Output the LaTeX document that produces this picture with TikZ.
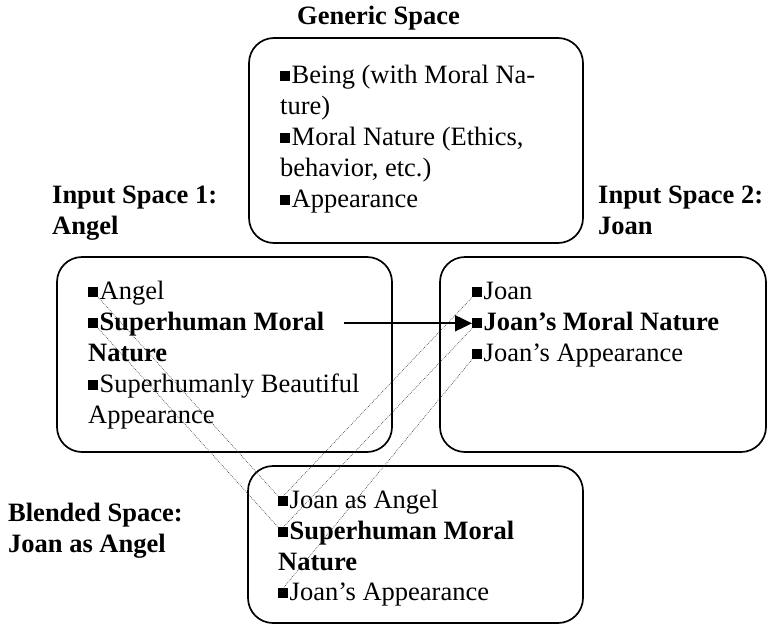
\documentclass[tikz,border=0pt]{standalone}
\usepackage{fontspec}
\setmainfont{Liberation Serif}
\usetikzlibrary{arrows.meta}
\begin{document}
\begin{tikzpicture}[x=1pt,y=-1pt,
  box/.style={draw, line width=1.7pt, rounded corners=25pt},
  blt/.style={fill=black, inner sep=0pt, minimum size=10pt, anchor=south west, yshift=1.5pt},
  txt/.style={anchor=base west, inner sep=0pt, font=\fontsize{26.5}{31}\selectfont},
  btxt/.style={txt, font=\fontsize{26.5}{31}\selectfont\bfseries},
  map/.style={draw=black!80, line width=0.55pt, dash pattern=on 0.8pt off 1.1pt},
  link/.style={line width=1.8pt, -{Triangle[length=17pt,width=16pt]}}]
\useasboundingbox (0,0) rectangle (767,626);

% space frames
\draw[box] (249,38) rectangle (583,243);
\draw[box] (57,257) rectangle (392,452);
\draw[box] (440,257) rectangle (766,452);
\draw[box] (248,466) rectangle (583,623);

% space titles
\node[btxt] (tg) at (297,25) {Generic Space};
\node[btxt] (ti1) at (52,203) {Input Space 1:};
\node[btxt] (ti1b) at (52,234) {Angel};
\node[btxt] (ti2) at (598,203) {Input Space 2:};
\node[btxt] (ti2b) at (598,234) {Joan};
\node[btxt] (tb) at (8,521) {Blended Space:};
\node[btxt] (tbb) at (8,552) {Joan as Angel};

% generic space
\node[blt] (g1) at (280,83) {};
\node[txt] (g1t) at (291.5,83) {Being (with Moral Na-};
\node[txt] (g1c) at (280,114) {ture)};
\node[blt] (g2) at (280,145) {};
\node[txt] (g2t) at (291.5,145) {Moral Nature (Ethics,};
\node[txt] (g2c) at (280,176) {behavior, etc.)};
\node[blt] (g3) at (280,207) {};
\node[txt] (g3t) at (291.5,207) {Appearance};

% input space 1
\node[blt] (a1) at (88,299) {};
\node[txt] (a1t) at (99.5,299) {Angel};
\node[blt] (a2) at (88,330) {};
\node[btxt] (a2t) at (99.5,330) {Superhuman Moral};
\node[btxt] (a2c) at (88,361) {Nature};
\node[blt] (a3) at (88,392) {};
\node[txt] (a3t) at (99.5,392) {Superhumanly Beautiful};
\node[txt] (a3c) at (88,423) {Appearance};

% input space 2
\node[blt] (j1) at (472,299) {};
\node[txt] (j1t) at (483.5,299) {Joan};
\node[blt] (j2) at (472,330) {};
\node[btxt] (j2t) at (483.5,330) {Joan’s Moral Nature};
\node[blt] (j3) at (472,361) {};
\node[txt] (j3t) at (483.5,361) {Joan’s Appearance};

% blended space
\node[blt] (b1) at (278,508) {};
\node[txt] (b1t) at (289.5,508) {Joan as Angel};
\node[blt] (b2) at (278,539) {};
\node[btxt] (b2t) at (289.5,539) {Superhuman Moral};
\node[btxt] (b2c) at (278,570) {Nature};
\node[blt] (b3) at (278,600) {};
\node[txt] (b3t) at (289.5,600) {Joan’s Appearance};

% projections into the blend
\draw[map] (a1.south east) -- (b1.north west);
\draw[map] (a2.south east) -- (b2.north west);
\draw[map] (j1.south west) -- (b1.north);
\draw[map] (j2.south west) -- (b2.north);
\draw[map] (j3.south west) -- (b3.north);

% cross-space mapping
\draw[link] ([xshift=20pt]a2t.east |- j2.west) -- (j2.west);
\end{tikzpicture}
\end{document}
